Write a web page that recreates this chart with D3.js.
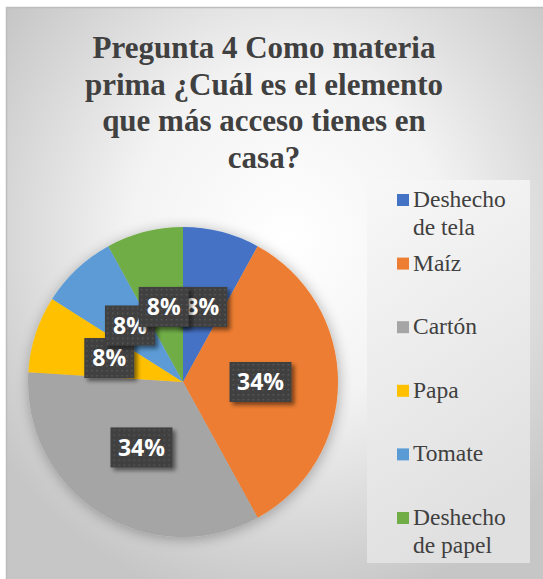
<!DOCTYPE html>
<html>
<head>
<meta charset="utf-8">
<script src="https://cdn.jsdelivr.net/npm/d3@7"></script>
<style>
  body { margin: 0; background: #fff; }
  svg { display: block; }
  .serif { font-family: "Liberation Serif", "Times New Roman", Times, serif; }
  .lab { font-family: "Open Sans", Lato, sans-serif; }
</style>
</head>
<body>
<div id="chart"></div>
<script>
// data
var categories = ["Deshecho de tela", "Maíz", "Cartón", "Papa", "Tomate", "Deshecho de papel"];
var values = [8, 34, 34, 8, 8, 8];
var colours = ["#4472C4", "#ED7D31", "#A5A5A5", "#FFC000", "#5B9BD5", "#70AD47"];
var titleLines = ["Pregunta 4 Como materia", "prima ¿Cuál es el elemento", "que más acceso tienes en", "casa?"];

var width = 543, height = 579;

var svg = d3.select("#chart").append("svg")
    .attr("width", width)
    .attr("height", height);

var defs = svg.append("defs");

var bg = defs.append("radialGradient").attr("id", "bg")
    .attr("cx", "52%").attr("cy", "40%").attr("r", "65%");
bg.append("stop").attr("offset", "0%").attr("stop-color", "#ffffff");
bg.append("stop").attr("offset", "45%").attr("stop-color", "#f3f3f3");
bg.append("stop").attr("offset", "100%").attr("stop-color", "#c6c6c6");

var lg = defs.append("linearGradient").attr("id", "legbg")
    .attr("x1", "0").attr("y1", "0").attr("x2", "0.3").attr("y2", "1");
lg.append("stop").attr("offset", "0%").attr("stop-color", "#f8f8f8");
lg.append("stop").attr("offset", "100%").attr("stop-color", "#e0e0e0");

// soft glow round the pie
var shadow = defs.append("filter").attr("id", "pieshadow")
    .attr("x", "-20%").attr("y", "-20%").attr("width", "140%").attr("height", "140%");
shadow.append("feGaussianBlur").attr("in", "SourceAlpha").attr("stdDeviation", 7).attr("result", "b");
shadow.append("feOffset").attr("in", "b").attr("dx", 1).attr("dy", 2).attr("result", "o");
shadow.append("feComponentTransfer").attr("in", "o").attr("result", "s")
  .append("feFuncA").attr("type", "linear").attr("slope", 0.3);
var m1 = shadow.append("feMerge");
m1.append("feMergeNode").attr("in", "s");
m1.append("feMergeNode").attr("in", "SourceGraphic");

var boxShadow = defs.append("filter").attr("id", "boxshadow")
    .attr("x", "-20%").attr("y", "-20%").attr("width", "150%").attr("height", "160%");
boxShadow.append("feGaussianBlur").attr("in", "SourceAlpha").attr("stdDeviation", 2).attr("result", "b");
boxShadow.append("feOffset").attr("in", "b").attr("dx", 3).attr("dy", 3).attr("result", "o");
boxShadow.append("feComponentTransfer").attr("in", "o").attr("result", "s")
  .append("feFuncA").attr("type", "linear").attr("slope", 0.5);
var m2 = boxShadow.append("feMerge");
m2.append("feMergeNode").attr("in", "s");
m2.append("feMergeNode").attr("in", "SourceGraphic");

var dots = defs.append("pattern").attr("id", "dots")
    .attr("width", 5).attr("height", 5).attr("patternUnits", "userSpaceOnUse");
dots.append("rect").attr("width", 5).attr("height", 5).attr("fill", "#3f3f3f");
dots.append("rect").attr("x", 2).attr("y", 2).attr("width", 1.5).attr("height", 1.5).attr("fill", "#5a5a5a");

// chart area
svg.append("rect")
    .attr("x", 6.5).attr("y", 7.5)
    .attr("width", 540).attr("height", 575)
    .attr("fill", "url(#bg)")
    .attr("stroke", "#bdbdbd")
    .attr("stroke-width", 1.5);

// title
svg.append("g").selectAll("text").data(titleLines).enter().append("text")
    .attr("class", "serif")
    .attr("x", 264)
    .attr("y", function(d, i) { return 58 + i * 36.6; })
    .attr("text-anchor", "middle")
    .attr("font-weight", "bold")
    .attr("font-size", 31)
    .attr("fill", "#404040")
    .text(function(d) { return d; });

// pie
var cx = 183, cy = 382, r = 155;
var pie = d3.pie().sort(null).value(function(d) { return d; });
var arc = d3.arc().innerRadius(0).outerRadius(r);
var arcs = pie(values);

var g = svg.append("g").attr("transform", "translate(" + cx + "," + cy + ")");

g.append("g").attr("filter", "url(#pieshadow)")
  .selectAll("path").data(arcs).enter().append("path")
    .attr("d", arc)
    .attr("fill", function(d, i) { return colours[i]; })
    .attr("stroke", "none");

// data labels
var labels = g.append("g").selectAll("g").data(arcs).enter().append("g")
    .attr("transform", function(d) { return "translate(" + arc.centroid(d) + ")"; });

labels.append("rect")
    .attr("x", function(d) { return d.value >= 10 ? -31 : -25; })
    .attr("y", -20)
    .attr("width", function(d) { return d.value >= 10 ? 62 : 50; })
    .attr("height", 40)
    .attr("fill", "url(#dots)")
    .attr("filter", "url(#boxshadow)");

labels.append("text")
    .attr("class", "lab")
    .attr("text-anchor", "middle")
    .attr("dy", "0.36em")
    .attr("font-weight", "bold")
    .attr("font-size", 23)
    .attr("fill", "#ffffff")
    .text(function(d) { return d.value + "%"; });

// legend
svg.append("rect")
    .attr("x", 367).attr("y", 180)
    .attr("width", 163).attr("height", 383)
    .attr("fill", "url(#legbg)");

var legendY = d3.scalePoint().domain(categories).range([207, 525]);

var items = svg.append("g").selectAll("g").data(categories).enter().append("g")
    .attr("transform", function(d) { return "translate(0," + legendY(d) + ")"; });

items.append("rect")
    .attr("x", 397).attr("y", -13)
    .attr("width", 12).attr("height", 12)
    .attr("fill", function(d, i) { return colours[i]; });

items.append("text")
    .attr("class", "serif")
    .attr("x", 413)
    .attr("font-size", 23.5)
    .attr("fill", "#404040")
    .each(function(d) {
        var parts = d.length > 10 ? [d.slice(0, d.indexOf(" ")), d.slice(d.indexOf(" ") + 1)] : [d];
        var t = d3.select(this);
        parts.forEach(function(p, j) {
            t.append("tspan").attr("x", 413).attr("dy", j ? 28 : 0).text(p);
        });
    });
</script>
</body>
</html>
